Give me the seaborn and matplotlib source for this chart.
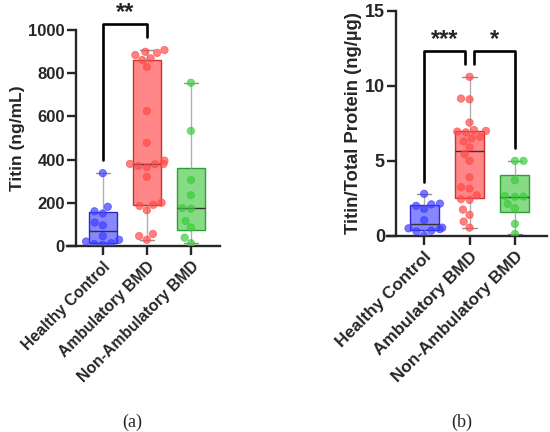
import numpy as np
import pandas as pd
import seaborn as sns
import matplotlib
import matplotlib.pyplot as plt

# groups and values
groups = ['Healthy Control', 'Ambulatory BMD', 'Non-Ambulatory BMD']

titin_hc = [337, 181, 150, 160, 108, 95, 45, 28, 20, 12, 8, 5]
titin_amb = [908, 900, 895, 885, 870, 862, 830, 625, 478, 395, 380, 380,
             378, 370, 365, 320, 200, 190, 185, 165, 55, 45, 28]
titin_nonamb = [756, 533, 305, 235, 175, 172, 115, 85, 38, 12]

ratio_hc = [2.8, 2.15, 2.1, 2.0, 1.8, 1.05, 0.55, 0.5, 0.45, 0.35, 0.3, 0.05]
ratio_amb = [10.6, 9.15, 9.1, 7.55, 7.05, 7.0, 6.95, 6.9, 6.6, 6.5, 6.3, 5.9,
             5.45, 5.0, 3.9, 3.25, 3.15, 2.7, 2.45, 2.4, 1.75, 1.4, 0.95, 0.55]
ratio_nonamb = [5.0, 5.0, 3.7, 2.65, 2.62, 2.6, 2.13, 1.84, 0.8, 0.13]

dot_colors = ['#3d3dff', '#ff4a4a', '#3ccc3c']
face_colors = ['#7a7aff', '#ff7a7a', '#7ad87a']
edge_colors = ['#2b2bcc', '#cc3030', '#2f9f2f']

sns.set_style('ticks')
plt.rcParams['font.family'] = ['Liberation Sans', 'DejaVu Sans']
plt.rcParams['font.weight'] = 'bold'

# the original boxes use Prism-style quartiles ((n+1)p), not numpy's default
_orig_stats = matplotlib.cbook.boxplot_stats


def prism_stats(X, *args, **kwargs):
    stats = _orig_stats(X, *args, **kwargs)
    data = [X] if np.ndim(X) == 1 else X
    for s, x in zip(stats, data):
        q1, med, q3 = np.percentile(np.asarray(x, float), [25, 50, 75],
                                    method='weibull')
        s['q1'], s['med'], s['q3'] = q1, med, q3
    return stats


matplotlib.cbook.boxplot_stats = prism_stats


def long_frame(values):
    rows = []
    for g, vals in zip(groups, values):
        for v in vals:
            rows.append((g, v))
    return pd.DataFrame(rows, columns=['group', 'value'])


def draw_panel(ax, df, ylabel, yticks, label_size, tick_size, xlim):
    sns.boxplot(data=df, x='group', y='value', hue='group', order=groups,
                palette=face_colors, saturation=1, whis=(0, 100), width=0.64,
                showfliers=False, linewidth=1.0, legend=False, ax=ax,
                whiskerprops={'color': '#b0b0b0'},
                capprops={'color': '#909090'},
                medianprops={'color': '#333333', 'linewidth': 1.0})
    for patch, ec in zip(ax.patches, edge_colors):
        fc = patch.get_facecolor()
        patch.set_facecolor((fc[0], fc[1], fc[2], 0.9))
        patch.set_edgecolor(ec)
    sns.swarmplot(data=df, x='group', y='value', hue='group', order=groups,
                  palette=dot_colors, size=5.3, alpha=0.7, linewidth=0.6,
                  edgecolor='face', legend=False, ax=ax)
    ax.set_xlabel('')
    ax.set_ylabel(ylabel, fontsize=label_size, fontweight='bold', labelpad=2)
    ax.set_yticks(yticks)
    ax.set_ylim(yticks[0], yticks[-1])
    ax.set_xlim(*xlim)
    ax.set_xticks(range(3))
    ax.set_xticklabels(groups, rotation=45, ha='right', va='top',
                       rotation_mode='anchor', fontsize=tick_size - 0.7,
                       fontweight='bold')
    for lab in ax.get_yticklabels():
        lab.set_fontsize(tick_size)
        lab.set_fontweight('bold')
    for s in ['left', 'bottom']:
        ax.spines[s].set_linewidth(1.7)
    sns.despine(ax=ax)
    # x axis runs on to the left end of the y ticks
    ax.spines['bottom'].set_bounds(xlim[0] - 0.2, xlim[1])
    ax.tick_params(width=1.7, length=6.5, pad=1.5, direction='out')
    ax.tick_params(axis='x', pad=3)


def bracket(ax, x1, x2, y_left, y_top, y_right, label):
    ax.plot([x1, x1, x2, x2], [y_left, y_top, y_top, y_right],
            color='black', lw=1.9, clip_on=False)
    ax.text((x1 + x2) / 2, y_top, label, ha='center', va='bottom',
            fontsize=17, fontweight='bold')


fig = plt.figure(figsize=(5.5, 4.32), dpi=100)
ax_a = fig.add_axes([0.138, 0.431, 0.262, 0.499])
ax_b = fig.add_axes([0.72, 0.454, 0.274, 0.521])

draw_panel(ax_a, long_frame([titin_hc, titin_amb, titin_nonamb]),
           'Titin (ng/mL)', [0, 200, 400, 600, 800, 1000], 12.5, 12,
           (-0.61, 2.66))
bracket(ax_a, 0, 1, 397, 1028, 968, '**')

draw_panel(ax_b, long_frame([ratio_hc, ratio_amb, ratio_nonamb]),
           'Titin/Total Protein (ng/\u00b5g)', [0, 5, 10, 15], 13.3, 13,
           (-0.62, 2.7))
bracket(ax_b, 0, 0.9, 3.6, 12.35, 11.45, '***')
bracket(ax_b, 1.1, 2, 11.45, 12.35, 5.85, '*')

fig.text(0.24, 0.022, '(a)', ha='center', va='center', fontsize=13,
         family=['Liberation Serif', 'DejaVu Serif'], fontweight='normal')
fig.text(0.84, 0.022, '(b)', ha='center', va='center', fontsize=13,
         family=['Liberation Serif', 'DejaVu Serif'], fontweight='normal')

fig.savefig('out.png', dpi=100)
